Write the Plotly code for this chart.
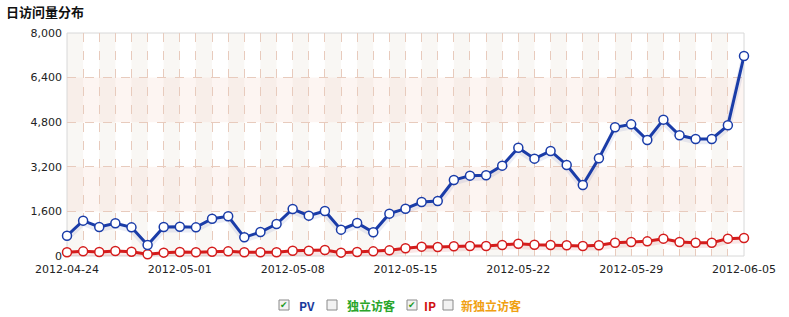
import plotly.graph_objects as go
import pandas as pd

dates = pd.date_range("2012-04-24", "2012-06-05", freq="D").strftime("%Y-%m-%d").tolist()
pv = [729, 1268, 1040, 1172, 1028, 395, 1040, 1052, 1028, 1339, 1423, 670, 861,
      1148, 1686, 1447, 1614, 945, 1184, 849, 1519, 1698, 1937, 1973, 2726, 2882,
      2894, 3241, 3886, 3492, 3767, 3265, 2547, 3504, 4616, 4723, 4161, 4891, 4329,
      4197, 4197, 4688, 7175]
ip = [132, 167, 143, 179, 155, 60, 120, 143, 132, 155, 167, 132, 132,
      132, 191, 191, 215, 120, 143, 167, 203, 275, 335, 323, 347, 359,
      359, 395, 442, 406, 395, 383, 359, 383, 478, 502, 526, 622, 502,
      478, 478, 622, 646]
y_ticks = [0, 1600, 3200, 4800, 6400, 8000]
x_ticks = ["2012-04-24", "2012-05-01", "2012-05-08", "2012-05-15", "2012-05-22", "2012-05-29", "2012-06-05"]
legend_items = [("PV", True, "#1a3a9c"), ("独立访客", False, "#2aa52a"), ("IP", True, "#d01010"), ("新独立访客", False, "#f0a010")]

W, H = 789, 317
L, R, T, B = 67, 744, 33, 256

def px(x):
    return (x - L) / (R - L)

def py(y):
    return (B - y) / (B - T)

fig = go.Figure()

# shadows
for vals, col in [(pv, "rgba(30,60,160,0.09)"), (ip, "rgba(210,20,20,0.10)")]:
    fig.add_trace(go.Scatter(x=dates, y=[v - 80 for v in vals], mode="lines",
                             line=dict(color=col, width=6), hoverinfo="skip",
                             showlegend=False, cliponaxis=False))

fig.add_trace(go.Scatter(x=dates, y=ip, mode="lines+markers", name="IP",
                         line=dict(color="#d41c1c", width=3),
                         marker=dict(size=9, color="white", line=dict(color="#d41c1c", width=1.5)),
                         cliponaxis=False, showlegend=False))
fig.add_trace(go.Scatter(x=dates, y=pv, mode="lines+markers", name="PV",
                         line=dict(color="#1a3ca8", width=3),
                         marker=dict(size=9, color="white", line=dict(color="#1a3ca8", width=1.5)),
                         cliponaxis=False, showlegend=False))

shapes = []
# vertical stripes
for i in range(0, len(dates) - 1, 2):
    shapes.append(dict(type="rect", xref="x", yref="paper", x0=dates[i], x1=dates[i + 1],
                       y0=0, y1=1, fillcolor="rgba(215,205,185,0.16)", line=dict(width=0), layer="below"))
# horizontal bands
for j in range(1, len(y_ticks) - 1, 2):
    shapes.append(dict(type="rect", xref="paper", yref="y", x0=0, x1=1,
                       y0=y_ticks[j], y1=y_ticks[j + 1], fillcolor="rgba(245,200,185,0.18)",
                       line=dict(width=0), layer="below"))
# plot border
shapes.append(dict(type="rect", xref="paper", yref="paper", x0=0, x1=1, y0=0, y1=1,
                   line=dict(color="#d8d8d8", width=1), layer="below"))

annotations = [dict(text="<b>日访问量分布</b>", xref="paper", yref="paper", x=px(4), y=py(12),
                    xanchor="left", yanchor="middle", showarrow=False,
                    font=dict(family="Noto Sans CJK SC", size=13, color="#111"))]

# legend
box_x = [279, 327, 407, 443]
text_x = [297, 345, 422, 459]
cy = 305
for (label, checked, col), bx, tx in zip(legend_items, box_x, text_x):
    shapes.append(dict(type="rect", xref="paper", yref="paper", x0=px(bx), x1=px(bx + 10),
                       y0=py(cy + 5), y1=py(cy - 5), fillcolor="#f2f2f2",
                       line=dict(color="#8a8a8a", width=1)))
    if checked:
        annotations.append(dict(text="✔", xref="paper", yref="paper", x=px(bx + 5), y=py(cy),
                                xanchor="center", yanchor="middle", showarrow=False,
                                font=dict(family="DejaVu Sans", size=9, color="#1f9a1f")))
    annotations.append(dict(text="<b>" + label + "</b>", xref="paper", yref="paper", x=px(tx), y=py(cy),
                            xanchor="left", yanchor="middle", showarrow=False,
                            font=dict(family="Noto Sans CJK SC, DejaVu Sans", size=12, color=col)))

fig.update_layout(
    width=W, height=H,
    margin=dict(l=L, r=W - R, t=T, b=H - B, pad=0),
    paper_bgcolor="white", plot_bgcolor="white",
    shapes=shapes, annotations=annotations,
    font=dict(family="DejaVu Sans", size=11, color="#222"),
    xaxis=dict(type="date", range=[dates[0], dates[-1]], tickvals=x_ticks, ticktext=x_ticks,
               showgrid=False,
               minor=dict(dtick=86400000, tick0=dates[0], showgrid=True, gridcolor="#e8cbbd",
                          griddash="dash", gridwidth=1),
               showline=False, zeroline=False, ticks="", tickfont=dict(size=11, color="#222"),
               ticklabelstandoff=5, fixedrange=True),
    yaxis=dict(range=[0, 8000], tickvals=y_ticks, tickformat=",d",
               showgrid=True, gridcolor="#e8cbbd", griddash="dash", gridwidth=1,
               zeroline=False, showline=False, ticks="", tickfont=dict(size=11, color="#222"),
               ticklabelstandoff=4, fixedrange=True),
    showlegend=False,
)

fig.write_html("out.html")
